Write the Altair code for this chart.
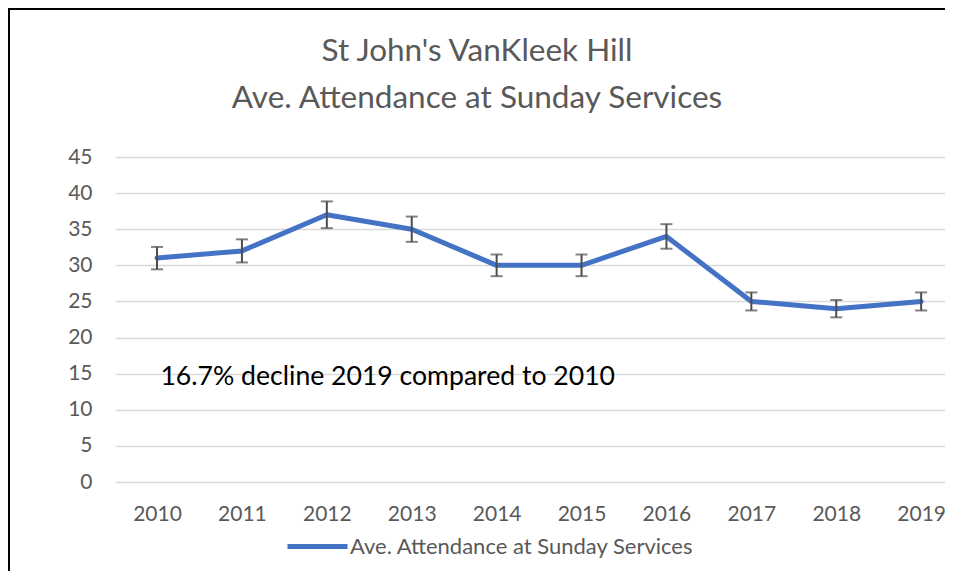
import altair as alt
import pandas as pd

years = [2010, 2011, 2012, 2013, 2014, 2015, 2016, 2017, 2018, 2019]
attendance = [31, 32, 37, 35, 30, 30, 34, 25, 24, 25]
err = [1.55, 1.6, 1.85, 1.75, 1.5, 1.5, 1.7, 1.25, 1.2, 1.25]
y_ticks = [0, 5, 10, 15, 20, 25, 30, 35, 40, 45]
series_name = "Ave. Attendance at Sunday Services"
title_lines = ["St John's VanKleek Hill", "Ave. Attendance at Sunday Services"]
note_text = "16.7% decline 2019 compared to 2010"
note_x = [2010.04]
note_y = [14.5]

df = pd.DataFrame({
    "year": years,
    "value": attendance,
    "lo": [v - e for v, e in zip(attendance, err)],
    "hi": [v + e for v, e in zip(attendance, err)],
})
note_df = pd.DataFrame({"x": note_x, "y": note_y, "t": [note_text]})
title_df = pd.DataFrame({"t": [title_lines[0] + "\n" + title_lines[1]]})

FONT = "Lato"
GREY = "#595959"

W, H = 830, 325
xscale = alt.Scale(domain=[2009.505, 2019.281], nice=False, zero=False)
yscale = alt.Scale(domain=[0, 45], nice=False)

X_AX = alt.Axis(values=years, format="d", grid=False, domain=False, ticks=False,
                labelPadding=21, labelFontSize=21, labelColor=GREY, labelFont=FONT,
                labelOverlap=False, title=None)
Y_AX = alt.Axis(values=y_ticks, grid=True, gridColor="#d9d9d9", gridWidth=1.5,
                domain=False, ticks=False, labelPadding=23, labelFontSize=21,
                labelColor=GREY, labelFont=FONT, labelOverlap=False, title=None)

base = alt.Chart(df)

line = base.mark_line(strokeWidth=5, color="#4472C4", strokeCap="round", strokeJoin="round").encode(
    x=alt.X("year:Q", scale=xscale, axis=X_AX),
    y=alt.Y("value:Q", scale=yscale, axis=Y_AX),
    color=alt.Color("s:N", scale=alt.Scale(domain=[series_name], range=["#4472C4"]),
                    legend=alt.Legend(orient="none", legendX=170, legendY=357, title=None,
                                      symbolType="stroke", symbolSize=3600, symbolStrokeWidth=5,
                                      labelFont=FONT, labelFontSize=22, labelColor=GREY,
                                      labelOffset=0, padding=0, labelLimit=0)),
).transform_calculate(s=f"'{series_name}'")

bars = base.mark_rule(color="#4d4d4d", strokeWidth=2).encode(
    x=alt.X("year:Q", scale=xscale, axis=X_AX),
    y=alt.Y("lo:Q", scale=yscale, axis=Y_AX), y2="hi:Q")
caps_lo = base.mark_tick(color="#4d4d4d", thickness=2, size=12, orient="horizontal").encode(
    x=alt.X("year:Q", scale=xscale, axis=X_AX),
    y=alt.Y("lo:Q", scale=yscale, axis=Y_AX))
caps_hi = base.mark_tick(color="#4d4d4d", thickness=2, size=12, orient="horizontal").encode(
    x=alt.X("year:Q", scale=xscale, axis=X_AX),
    y=alt.Y("hi:Q", scale=yscale, axis=Y_AX))

note = alt.Chart(note_df).mark_text(align="left", baseline="middle", font=FONT, fontSize=26.6,
                                    color="#000000").encode(
    x=alt.X("x:Q", scale=xscale, axis=X_AX),
    y=alt.Y("y:Q", scale=yscale, axis=Y_AX), text="t:N")

title = alt.Chart(title_df).mark_text(align="center", baseline="middle", font=FONT, fontSize=31.5,
                                      color=GREY, lineBreak="\n", lineHeight=47).encode(
    x=alt.value(362), y=alt.value(-105), text="t:N")

frame_top = alt.Chart(note_df).mark_rule(color="#000000", strokeWidth=2).encode(
    x=alt.value(-106), x2=alt.value(W), y=alt.value(-148))
frame_left = alt.Chart(note_df).mark_rule(color="#000000", strokeWidth=2).encode(
    x=alt.value(-106), y=alt.value(-149), y2=alt.value(H + 89))

chart = alt.layer(line, bars, caps_lo, caps_hi, note, title, frame_top, frame_left).properties(
    width=W, height=H,
    autosize=alt.AutoSizeParams(type="none"),
    padding={"left": 107, "top": 149, "right": 0, "bottom": 89},
).configure_view(stroke=None)

chart.save("out.html", embed_options={"renderer": "svg", "actions": False})
